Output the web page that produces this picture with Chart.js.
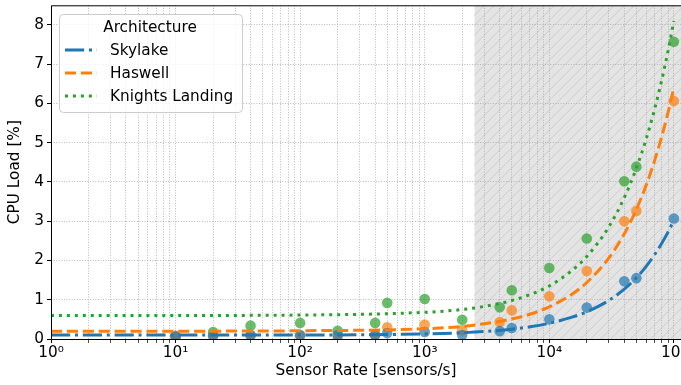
<!DOCTYPE html>
<html>
<head>
<meta charset="utf-8">
<script src="https://cdn.jsdelivr.net/npm/chart.js@4/dist/chart.umd.min.js"></script>
<style>
  html, body { margin: 0; padding: 0; background: #fff; overflow: hidden; }
  #wrap { width: 681px; height: 385px; overflow: hidden; }
</style>
</head>
<body>
<div id="wrap"><canvas id="c" width="700" height="385"></canvas></div>
<script>
// Measured CPU load per sensor rate
const rates = [10, 20, 40, 100, 200, 400, 500, 1000, 2000, 4000, 5000, 10000, 20000, 40000, 50000, 100000];
const skylakeLoad = [0.08, 0.08, 0.10, 0.10, 0.10, 0.10, 0.15, 0.18, 0.10, 0.20, 0.28, 0.50, 0.80, 1.47, 1.55, 3.07];
const haswellLoad = [0.05, 0.09, 0.08, 0.08, 0.00, 0.10, 0.30, 0.37, 0.22, 0.43, 0.73, 1.09, 1.73, 3.00, 3.26, 6.06];
const knlLoad     = [0.05, 0.18, 0.34, 0.41, 0.21, 0.41, 0.92, 1.02, 0.49, 0.81, 1.24, 1.81, 2.56, 4.02, 4.39, 7.57];

// Fitted load model, sampled along the rate axis
const fitRates   = [1, 10, 100, 1000, 2000, 3000, 5000, 7000, 10000, 15000, 20000, 30000, 40000, 50000, 60000, 70000, 80000, 90000, 100000];
const skylakeFit = [0.10, 0.10, 0.10, 0.13, 0.16, 0.19, 0.25, 0.31, 0.40, 0.55, 0.69, 0.98, 1.27, 1.56, 1.85, 2.15, 2.44, 2.73, 3.03];
const haswellFit = [0.20, 0.20, 0.21, 0.26, 0.32, 0.39, 0.51, 0.63, 0.82, 1.13, 1.44, 2.06, 2.68, 3.30, 3.92, 4.54, 5.16, 5.78, 6.40];
const knlFit     = [0.60, 0.60, 0.61, 0.68, 0.75, 0.83, 0.98, 1.13, 1.35, 1.73, 2.10, 2.85, 3.60, 4.35, 5.10, 5.85, 6.60, 7.35, 8.10];

const seriesNames = ['Skylake', 'Haswell', 'Knights Landing'];
const legendTitle = 'Architecture';
const xTitle = 'Sensor Rate [sensors/s]';
const yTitle = 'CPU Load [%]';

// Axis ticks
const xDecades = [0, 1, 2, 3, 4, 5];
const xTickLabels = ['10\u2070', '10\u00b9', '10\u00b2', '10\u00b3', '10\u2074', '10\u2075'];
const xMin = 1, xMax = 1.47e5;
const yMin = 0, yMax = 8.5;

// Sensor rates beyond which the system is saturated
const saturationStart = 2500;

const COLORS = ['#1f77b4', '#ff7f0e', '#2ca02c'];
const DASHES = [[19.2, 4.8, 3, 4.8], [11.1, 4.8], [3, 4.95]];
const FONT = '"DejaVu Sans", sans-serif';
const FS = 15.3;
const VISIBLE_W = 681;

function rgba(hex, a) {
  const n = parseInt(hex.slice(1), 16);
  return `rgba(${(n >> 16) & 255},${(n >> 8) & 255},${n & 255},${a})`;
}

const pointSets = [skylakeLoad, haswellLoad, knlLoad];
const fitSets = [skylakeFit, haswellFit, knlFit];

const datasets = [];
seriesNames.forEach((name, i) => {
  datasets.push({
    type: 'line',
    label: name,
    data: fitRates.map((r, k) => ({ x: r, y: fitSets[i][k] })),
    borderColor: COLORS[i],
    borderWidth: 3,
    borderDash: DASHES[i],
    borderCapStyle: 'butt',
    pointRadius: 0,
    fill: false,
    cubicInterpolationMode: 'monotone',
    order: 0
  });
  datasets.push({
    type: 'scatter',
    label: name + ' measured',
    data: rates.map((r, k) => ({ x: r, y: pointSets[i][k] })),
    backgroundColor: rgba(COLORS[i], 0.7),
    borderWidth: 0,
    pointRadius: 5.3,
    order: 1
  });
});

// Build the log-axis tick values (1..9 x 10^k)
const xTickValues = [];
xDecades.forEach(d => {
  for (let m = 1; m <= 9; m++) {
    const v = m * Math.pow(10, d);
    if (v >= xMin && v <= xMax) xTickValues.push(v);
  }
});
function decadeIndex(v) {
  const e = Math.log10(v);
  const r = Math.round(e);
  return Math.abs(e - r) < 1e-9 ? xDecades.indexOf(r) : -1;
}

const shadePlugin = {
  id: 'saturation',
  beforeDraw(chart) {
    const { ctx, chartArea: a, scales: { x } } = chart;
    const x0 = x.getPixelForValue(saturationStart);
    ctx.save();
    ctx.beginPath();
    ctx.rect(x0, a.top, a.right - x0, a.bottom - a.top);
    ctx.clip();
    ctx.fillStyle = '#e4e4e4';
    ctx.fillRect(x0, a.top, a.right - x0, a.bottom - a.top);
    ctx.strokeStyle = '#cbcbcb';
    ctx.lineWidth = 1;
    const h = a.bottom - a.top;
    ctx.beginPath();
    for (let k = x0 - h; k < a.right + 10; k += 10) {
      ctx.moveTo(k, a.bottom);
      ctx.lineTo(k + h, a.top);
    }
    ctx.stroke();
    ctx.restore();
  }
};

const framePlugin = {
  id: 'frame',
  afterDraw(chart) {
    const { ctx, chartArea: a } = chart;
    ctx.save();
    ctx.strokeStyle = '#000';
    ctx.lineWidth = 1;
    ctx.beginPath();
    ctx.moveTo(a.right, a.top + 0.5);
    ctx.lineTo(a.left + 0.5, a.top + 0.5);
    ctx.lineTo(a.left + 0.5, a.bottom + 0.5);
    ctx.lineTo(a.right, a.bottom + 0.5);
    ctx.lineTo(a.right, a.top);
    ctx.stroke();
    ctx.restore();
  }
};

const legendPlugin = {
  id: 'archLegend',
  afterDraw(chart) {
    const { ctx } = chart;
    const bx = 59.5, by = 14.5, bw = 183, bh = 98, r = 4;
    ctx.save();
    ctx.beginPath();
    ctx.moveTo(bx + r, by);
    ctx.arcTo(bx + bw, by, bx + bw, by + bh, r);
    ctx.arcTo(bx + bw, by + bh, bx, by + bh, r);
    ctx.arcTo(bx, by + bh, bx, by, r);
    ctx.arcTo(bx, by, bx + bw, by, r);
    ctx.closePath();
    ctx.fillStyle = 'rgba(255,255,255,0.8)';
    ctx.fill();
    ctx.strokeStyle = '#cccccc';
    ctx.lineWidth = 1;
    ctx.stroke();

    ctx.fillStyle = '#000';
    ctx.font = FS + 'px ' + FONT;
    ctx.textBaseline = 'middle';
    ctx.textAlign = 'center';
    ctx.fillText(legendTitle, 150, 28);

    const rows = [50, 73, 96];
    seriesNames.forEach((name, i) => {
      ctx.beginPath();
      ctx.setLineDash(DASHES[i]);
      ctx.lineCap = 'butt';
      ctx.strokeStyle = COLORS[i];
      ctx.lineWidth = 3;
      ctx.moveTo(65, rows[i]);
      ctx.lineTo(97, rows[i]);
      ctx.stroke();
      ctx.setLineDash([]);
      ctx.textAlign = 'left';
      ctx.fillStyle = '#000';
      ctx.fillText(name, 110, rows[i] + 1);
    });
    ctx.restore();
  }
};

// The x-axis title is centred on the visible part of the plot
const xTitlePlugin = {
  id: 'xTitle',
  afterDraw(chart) {
    const { ctx, chartArea: a } = chart;
    ctx.save();
    ctx.font = FS + 'px ' + FONT;
    ctx.fillStyle = '#000';
    ctx.textAlign = 'center';
    ctx.textBaseline = 'middle';
    ctx.fillText(xTitle, (a.left + Math.min(a.right, VISIBLE_W)) / 2, 371);
    ctx.restore();
  }
};

Chart.defaults.font.family = FONT;
Chart.defaults.font.size = FS;
Chart.defaults.color = '#000';

new Chart(document.getElementById('c'), {
  data: { datasets },
  options: {
    responsive: false,
    animation: false,
    events: [],
    layout: { padding: { top: 5, right: 0, left: 0, bottom: 0 } },
    plugins: { legend: { display: false }, tooltip: { enabled: false } },
    scales: {
      x: {
        type: 'logarithmic',
        min: xMin,
        max: xMax,
        afterBuildTicks(scale) {
          scale.ticks = xTickValues.map(v => ({ value: v }));
        },
        afterFit(scale) {
          scale.height = 46;
          scale.paddingLeft = 0;
          scale.paddingRight = 0;
        },
        ticks: {
          autoSkip: false,
          maxRotation: 0,
          padding: 1,
          callback(v) {
            const i = decadeIndex(v);
            return i >= 0 ? xTickLabels[i] : '';
          }
        },
        grid: {
          color: '#a8a8a8',
          lineWidth: 0.8,
          tickLength: 4,
          tickColor: '#000',
          tickWidth: (c) => (c.tick && decadeIndex(c.tick.value) >= 0 ? 1 : 0.7)
        },
        border: { display: false, dash: [1, 1.6] },
        title: { display: false }
      },
      y: {
        type: 'linear',
        min: yMin,
        max: yMax,
        afterFit(scale) {
          scale.width = 51;
          scale.paddingTop = 0;
          scale.paddingBottom = 0;
        },
        ticks: { stepSize: 1, includeBounds: false, padding: 3 },
        grid: { color: '#a8a8a8', lineWidth: 0.8, tickLength: 4, tickColor: '#000', tickWidth: 1 },
        border: { display: false, dash: [1, 1.6] },
        title: { display: true, text: yTitle, padding: { top: 6, bottom: 4 } }
      }
    }
  },
  plugins: [shadePlugin, framePlugin, legendPlugin, xTitlePlugin]
});
</script>
</body>
</html>
